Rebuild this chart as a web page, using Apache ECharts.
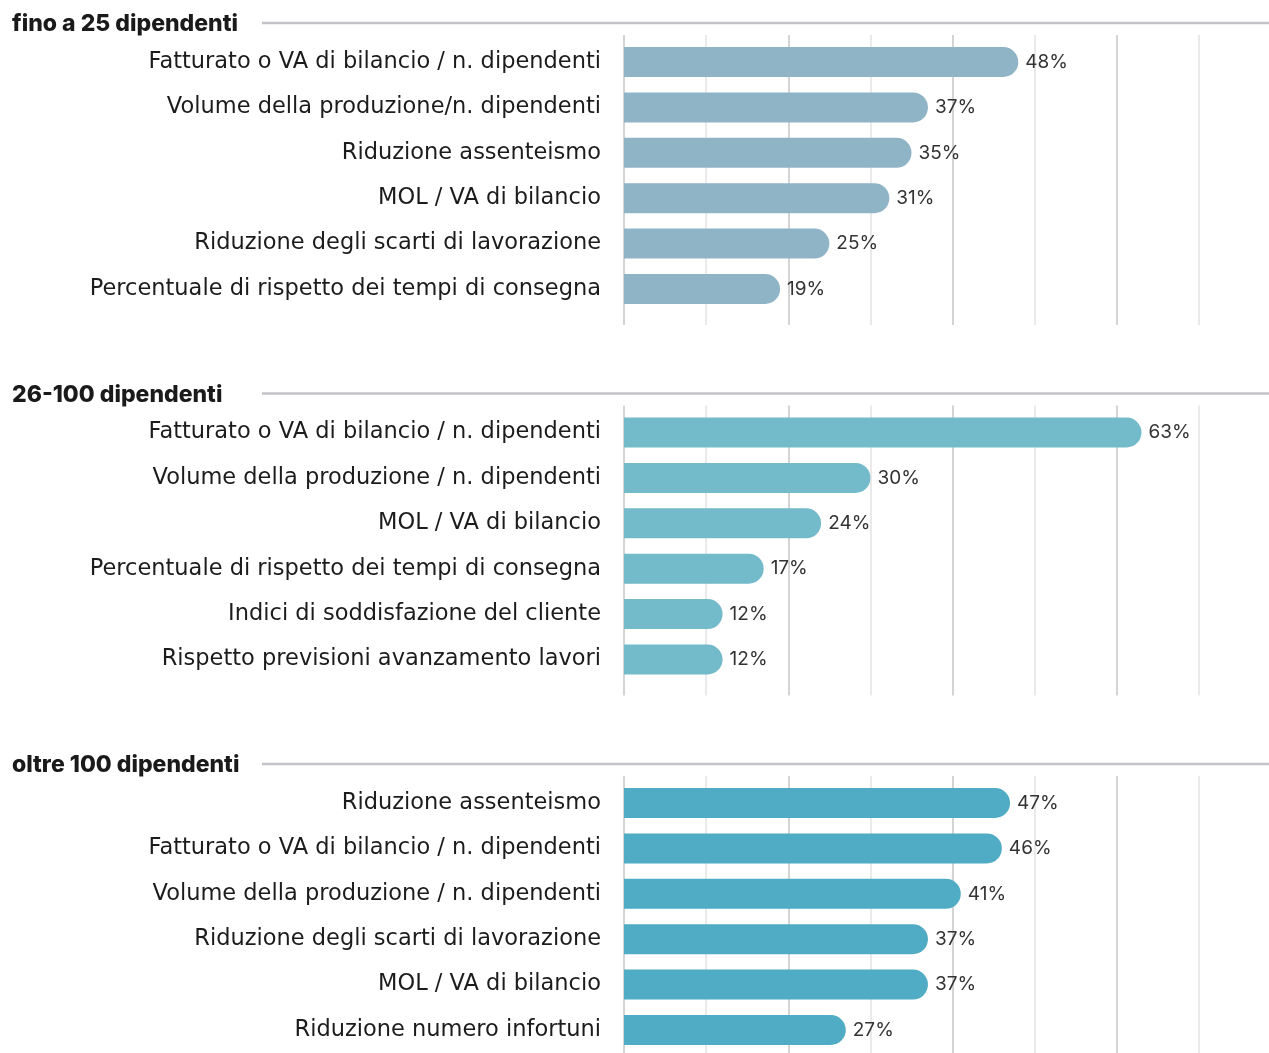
<!DOCTYPE html>
<html>
<head>
<meta charset="utf-8">
<script src="https://cdn.jsdelivr.net/npm/echarts@6/dist/echarts.min.js"></script>
<style>
  html, body { margin: 0; padding: 0; background: #fff; }
  #chart { width: 1269px; height: 1053px; }
</style>
</head>
<body>
<div id="chart"></div>
<script>
const panelTitles = ['fino a 25 dipendenti', '26-100 dipendenti', 'oltre 100 dipendenti'];

const catsSmall = [
  'Fatturato o VA di bilancio / n. dipendenti',
  'Volume della produzione/n. dipendenti',
  'Riduzione assenteismo',
  'MOL / VA di bilancio',
  'Riduzione degli scarti di lavorazione',
  'Percentuale di rispetto dei tempi di consegna',
];
// bar lengths as drawn; the printed labels are kept apart (the MOL bar is drawn a bit longer than its label)
const valsSmall = [48, 37, 35, 32.3, 25, 19];
const labelsSmall = ['48%', '37%', '35%', '31%', '25%', '19%'];

const catsMedium = [
  'Fatturato o VA di bilancio / n. dipendenti',
  'Volume della produzione / n. dipendenti',
  'MOL / VA di bilancio',
  'Percentuale di rispetto dei tempi di consegna',
  'Indici di soddisfazione del cliente',
  'Rispetto previsioni avanzamento lavori',
];
const valsMedium = [63, 30, 24, 17, 12, 12];
const labelsMedium = ['63%', '30%', '24%', '17%', '12%', '12%'];

const catsLarge = [
  'Riduzione assenteismo',
  'Fatturato o VA di bilancio / n. dipendenti',
  'Volume della produzione / n. dipendenti',
  'Riduzione degli scarti di lavorazione',
  'MOL / VA di bilancio',
  'Riduzione numero infortuni',
];
const valsLarge = [47, 46, 41, 37, 37, 27];
const labelsLarge = ['47%', '46%', '41%', '37%', '37%', '27%'];

const barColors = ['#8fb4c6', '#73bbcb', '#4facc4'];
const panels = [
  { cats: catsSmall, vals: valsSmall, labels: labelsSmall },
  { cats: catsMedium, vals: valsMedium, labels: labelsMedium },
  { cats: catsLarge, vals: valsLarge, labels: labelsLarge },
];

const font = '"DejaVu Sans", "Noto Sans", sans-serif';
const titleFont = 'Inter, "Noto Sans", sans-serif';
const panelStep = 370.5;
const axisMax = 70;

const grids = [];
const xAxes = [];
const yAxes = [];
const series = [];
const graphics = [];

panels.forEach((panel, i) => {
  const offset = panelStep * i;

  // background grid just for the vertical lines
  grids.push({ left: 624, right: 70, top: 35 + offset, height: 290 });
  xAxes.push({
    gridIndex: grids.length - 1,
    type: 'value',
    min: 0,
    max: axisMax,
    interval: 10,
    axisLine: { show: false },
    axisTick: { show: false },
    axisLabel: { show: false },
    splitLine: { show: true, lineStyle: { color: ['#c6c6c6', '#e3e3e3'], width: 1.5 } },
  });
  yAxes.push({ gridIndex: grids.length - 1, type: 'category', data: [], show: false });

  // bar grid
  grids.push({ left: 624, right: 70, top: 39.3 + offset, height: 272.4 });
  xAxes.push({
    gridIndex: grids.length - 1,
    type: 'value',
    min: 0,
    max: axisMax,
    show: false,
    splitLine: { show: false },
  });
  yAxes.push({
    gridIndex: grids.length - 1,
    type: 'category',
    inverse: true,
    data: panel.cats,
    axisLine: { show: false },
    axisTick: { show: false },
    axisLabel: { color: '#1c1c1c', fontSize: 22.5, fontFamily: font, margin: 23, padding: [4, 0, 0, 0] },
  });
  series.push({
    type: 'bar',
    xAxisIndex: xAxes.length - 1,
    yAxisIndex: yAxes.length - 1,
    data: panel.vals,
    barWidth: 30,
    itemStyle: { color: barColors[i], borderRadius: [0, 15, 15, 0] },
    label: {
      show: true,
      position: 'right',
      distance: 7,
      color: '#333',
      fontSize: 19,
      fontFamily: titleFont,
      padding: [2, 0, 0, 0],
      formatter: ({ dataIndex }) => panel.labels[dataIndex],
    },
  });

  graphics.push({
    type: 'text',
    left: 12,
    top: 23 + offset - 10,
    style: { text: panelTitles[i], fill: '#1a1a1a', font: `800 23px ${titleFont}` },
  });
  graphics.push({
    type: 'line',
    shape: { x1: 262, y1: 23 + offset, x2: 1269, y2: 23 + offset },
    style: { stroke: '#c3c3c7', lineWidth: 2.5 },
  });
});

const chart = echarts.init(document.getElementById('chart'));
chart.setOption({
  backgroundColor: '#fff',
  animation: false,
  grid: grids,
  xAxis: xAxes,
  yAxis: yAxes,
  series,
  graphic: graphics,
});
</script>
</body>
</html>
